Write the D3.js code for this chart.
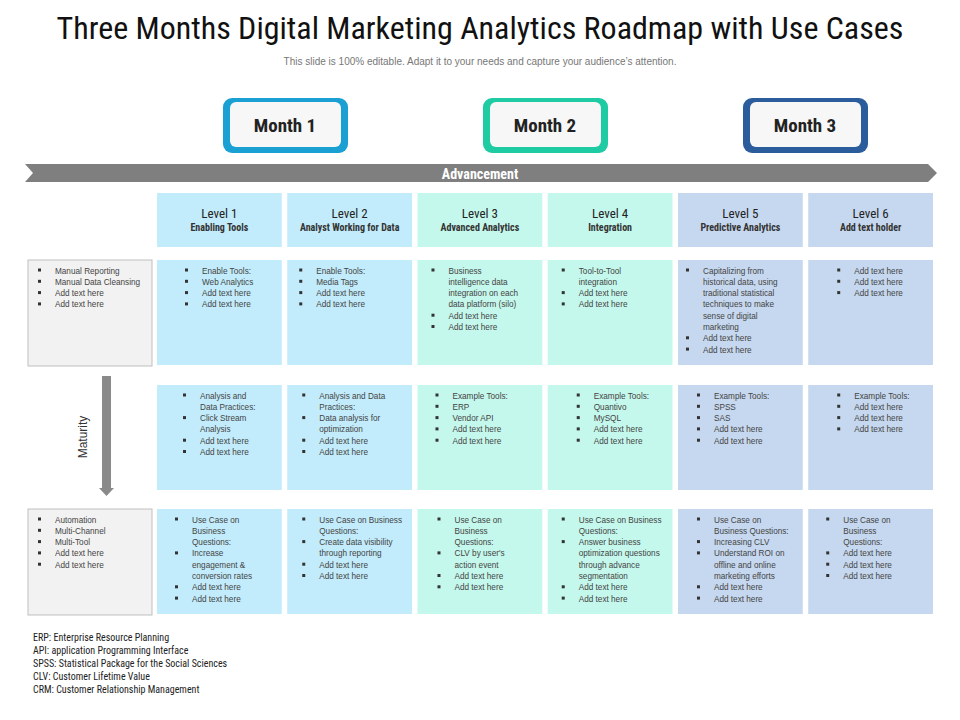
<!DOCTYPE html>
<html><head><meta charset="utf-8">
<script src="https://cdn.jsdelivr.net/npm/d3@7"></script>
<style>body{margin:0;background:#fff}svg{display:block}</style>
</head><body><svg id="c" width="960" height="720"></svg>
<script>
const title = "Three Months Digital Marketing Analytics Roadmap with Use Cases";
const subtitle = "This slide is 100% editable. Adapt it to your needs and capture your audience\u2019s attention.";
const months = ["Month 1","Month 2","Month 3"];
const monthColors = ["#1aa0d2","#1ecba2","#2b5c9c"];
const levels = ["Level 1","Level 2","Level 3","Level 4","Level 5","Level 6"];
const levelSubs = ["Enabling Tools","Analyst Working for Data","Advanced Analytics","Integration","Predictive Analytics","Add text holder"];
const levelColors = ["#c2ecfb","#c2ecfb","#c4f8ec","#c4f8ec","#c6d8ef","#c6d8ef"];
// each item: array of wrapped lines of one bullet
const leftRows = [
  [["Manual Reporting"],["Manual Data Cleansing"],["Add text  here"],["Add text  here"]],
  null,
  [["Automation"],["Multi-Channel"],["Multi-Tool"],["Add text  here"],["Add text  here"]]
];
const cells = [
 [
  [["Enable Tools:"],["Web Analytics"],["Add text  here"],["Add text  here"]],
  [["Enable Tools:"],["Media Tags"],["Add text  here"],["Add text  here"]],
  [["Business","intelligence data","integration  on each","data platform (silo)"],["Add text  here"],["Add text  here"]],
  [["Tool-to-Tool","integration"],["Add text  here"],["Add text  here"]],
  [["Capitalizing  from","historical data, using","traditional statistical","techniques to make","sense of digital","marketing"],["Add text  here"],["Add text  here"]],
  [["Add text  here"],["Add text  here"],["Add text  here"]]
 ],
 [
  [["Analysis and","Data Practices:"],["Click Stream","Analysis"],["Add text  here"],["Add text  here"]],
  [["Analysis and Data","Practices:"],["Data analysis for","optimization"],["Add text  here"],["Add text  here"]],
  [["Example Tools:"],["ERP"],["Vendor API"],["Add text  here"],["Add text  here"]],
  [["Example Tools:"],["Quantivo"],["MySQL"],["Add text  here"],["Add text  here"]],
  [["Example Tools:"],["SPSS"],["SAS"],["Add text  here"],["Add text  here"]],
  [["Example Tools:"],["Add text  here"],["Add text  here"],["Add text  here"]]
 ],
 [
  [["Use Case on","Business","Questions:"],["Increase","engagement  &","conversion rates"],["Add text  here"],["Add text  here"]],
  [["Use Case on Business","Questions:"],["Create  data visibility","through reporting"],["Add text  here"],["Add text  here"]],
  [["Use Case on","Business","Questions:"],["CLV by  user's","action event"],["Add text  here"],["Add text  here"]],
  [["Use Case on Business","Questions:"],["Answer business","optimization questions","through advance","segmentation"],["Add text  here"],["Add text  here"]],
  [["Use Case on","Business Questions:"],["Increasing CLV"],["Understand ROI on","offline and online","marketing efforts"],["Add text  here"],["Add text  here"]],
  [["Use Case on","Business","Questions:"],["Add text  here"],["Add text  here"],["Add text  here"]]
 ]
];
const bulletOffsets = [[29,13,15,15,9,30],[27,16,19,30,20,30],[19,16,21,15,20,19]];
const footnotes = ["ERP: Enterprise Resource Planning","API: application Programming Interface","SPSS: Statistical Package for the Social Sciences","CLV: Customer Lifetime Value","CRM: Customer Relationship Management"];

const svg = d3.select("#c");
const F = "Liberation Sans, Arial, sans-serif";
const FN = "'Liberation Sans Narrow', 'Roboto Condensed', Arial, sans-serif";

svg.append("text").attr("x",480).attr("y",39).attr("text-anchor","middle")
  .attr("font-family",FN).attr("font-size",32).attr("fill","#111").text(title);
svg.append("text").attr("x",480).attr("y",65).attr("text-anchor","middle")
  .attr("font-family",F).attr("font-size",10).attr("fill","#777").text(subtitle);

// months
const mx = d3.scalePoint().domain(months).range([285,805]);
months.forEach((m,i)=>{
  const cx = mx(m);
  svg.append("rect").attr("x",cx-62).attr("y",98).attr("width",125).attr("height",55).attr("rx",9)
    .attr("fill",monthColors[i]);
  svg.append("rect").attr("x",cx-55).attr("y",102).attr("width",111).attr("height",45).attr("rx",6)
    .attr("fill","#f7f7f7");
  svg.append("text").attr("x",cx).attr("y",132).attr("text-anchor","middle")
    .attr("font-family",FN).attr("font-weight","bold").attr("font-size",19).attr("fill","#222").text(m);
});

// advancement arrow
svg.append("path").attr("d","M25,164 L928,164 L937,173 L928,182 L25,182 L33,173 Z").attr("fill","#7f7f7f");
svg.append("text").attr("x",480).attr("y",178.5).attr("text-anchor","middle").attr("font-family",FN)
  .attr("font-weight","bold").attr("font-size",14).attr("fill","#fff").text("Advancement");

// columns
const x = d3.scaleBand().domain(d3.range(6)).range([157,933]).paddingInner(0.042);
levels.forEach((l,i)=>{
  svg.append("rect").attr("x",x(i)).attr("y",193).attr("width",x.bandwidth()).attr("height",54).attr("fill",levelColors[i]);
  svg.append("text").attr("x",x(i)+x.bandwidth()/2).attr("y",218).attr("text-anchor","middle")
    .attr("font-family",FN).attr("font-size",13).attr("fill","#222").text(l);
  svg.append("text").attr("x",x(i)+x.bandwidth()/2).attr("y",231).attr("text-anchor","middle")
    .attr("font-family",FN).attr("font-weight","bold").attr("font-size",10).attr("fill","#333").text(levelSubs[i]);
});

const rowY = [260,385,509];
const rowH = 105;
function bullets(items,bx,y0){
  let y=y0;
  items.forEach(lines=>{
    svg.append("rect").attr("x",bx-1).attr("y",y-5).attr("width",3).attr("height",3).attr("fill","#333");
    lines.forEach(t=>{
      svg.append("text").attr("x",bx+16).attr("y",y).attr("font-family",F).attr("font-size",8.2)
        .attr("fill","#444").text(t);
      y+=11.3;
    });
  });
}
cells.forEach((row,r)=>{
  row.forEach((items,c)=>{
    svg.append("rect").attr("x",x(c)).attr("y",rowY[r]).attr("width",x.bandwidth()).attr("height",rowH).attr("fill",levelColors[c]);
    bullets(items,x(c)+bulletOffsets[r][c],rowY[r]+13.5);
  });
  if(leftRows[r]){
    svg.append("rect").attr("x",28).attr("y",rowY[r]).attr("width",124).attr("height",rowH+1)
      .attr("fill","#f2f2f2").attr("stroke","#bfbfbf").attr("stroke-width",1);
    bullets(leftRows[r],39,rowY[r]+13.5);
  }
});

// maturity arrow
svg.append("path").attr("d","M102,376 L111,376 L111,488 L114,488 L106.5,496 L99,488 L102,488 Z").attr("fill","#8a8a8a");
svg.append("text").attr("transform","translate(87,437) rotate(-90)").attr("text-anchor","middle")
  .attr("font-family",F).attr("font-size",12).attr("fill","#333").text("Maturity");

footnotes.forEach((f,i)=>{
  svg.append("text").attr("x",33).attr("y",641+i*13).attr("font-family",FN).attr("font-size",10)
    .attr("fill","#222").text(f);
});
</script></body></html>
